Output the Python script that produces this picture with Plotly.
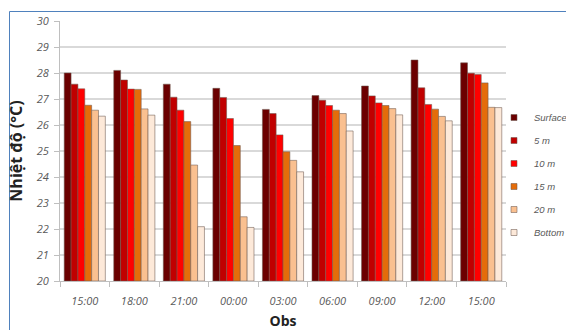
import plotly.graph_objects as go

categories = ["15:00", "18:00", "21:00", "00:00", "03:00", "06:00", "09:00", "12:00", "15:00"]
series_names = ["Surface", "5 m", "10 m", "15 m", "20 m", "Bottom"]
surface = [28.0, 28.1, 27.57, 27.41, 26.6, 27.13, 27.5, 28.5, 28.39]
m5 = [27.57, 27.73, 27.07, 27.06, 26.44, 26.95, 27.12, 27.43, 27.99]
m10 = [27.39, 27.38, 26.57, 26.25, 25.62, 26.75, 26.85, 26.79, 27.94]
m15 = [26.76, 27.37, 26.13, 25.21, 24.97, 26.57, 26.75, 26.61, 27.62]
m20 = [26.57, 26.62, 24.46, 22.47, 24.64, 26.44, 26.63, 26.33, 26.68]
bottom = [26.34, 26.38, 22.09, 22.06, 24.2, 25.77, 26.39, 26.16, 26.67]
y_ticks = [20, 21, 22, 23, 24, 25, 26, 27, 28, 29, 30]

values = [surface, m5, m10, m15, m20, bottom]
colors = ["#6B0000", "#C00000", "#FF0000", "#E46C0A", "#FAC090", "#FDE9D9"]
outline = "rgba(110,90,80,0.55)"

xpos = list(range(len(categories)))
fig = go.Figure()
for name, vals, col in zip(series_names, values, colors):
    fig.add_trace(go.Bar(
        x=xpos, y=[v - 20 for v in vals], base=20, name=name,
        marker=dict(color=col, line=dict(color=outline, width=1)),
        legendgroup=name, showlegend=False,
    ))
for name, col in zip(series_names, colors):
    fig.add_trace(go.Scatter(
        x=[None], y=[None], mode="markers", name=name, legendgroup=name,
        marker=dict(symbol="square", size=6, color=col, line=dict(color=outline, width=1)),
    ))

L, R, T, B = 60, 60, 21, 49
W, H = 566, 330
pw, ph = W - L - R, H - T - B

def px(x):
    return (x - L) / pw

def py(y):
    return (H - B - y) / ph

fig.update_layout(
    width=W, height=H,
    margin=dict(l=L, r=R, t=T, b=B, autoexpand=False),
    paper_bgcolor="white", plot_bgcolor="white",
    barmode="group", bargap=0.17, bargroupgap=0,
    font=dict(family="Open Sans, Liberation Sans, sans-serif", color="#595959"),
    showlegend=True,
    legend=dict(
        x=px(494), y=py(103), xanchor="left", yanchor="top",
        font=dict(size=9.5, family="Liberation Sans Narrow, Liberation Sans, sans-serif",
                  color="#595959", style="italic"),
        tracegroupgap=4, bgcolor="rgba(0,0,0,0)", itemwidth=30,
    ),
    xaxis=dict(
        range=[-0.5, len(categories) - 0.5],
        tickvals=xpos, ticktext=categories,
        ticks="", showgrid=False,
        showline=True, linecolor="#bfbfbf", linewidth=1,
        tickfont=dict(size=11, color="#595959", style="italic"),
        ticklabelstandoff=10,
        minor=dict(tickvals=[i - 0.5 for i in range(len(categories) + 1)],
                   ticks="outside", ticklen=5, tickcolor="#bfbfbf", showgrid=False),
        title=dict(text="<b>Obs</b>", font=dict(size=14, color="#222222"), standoff=11),
        fixedrange=True,
    ),
    yaxis=dict(
        range=[20, 30], tickvals=y_ticks,
        showgrid=True, gridcolor="#d9d9d9", gridwidth=1.5,
        showline=True, linecolor="#bfbfbf", linewidth=1,
        ticks="outside", ticklen=5, tickcolor="#bfbfbf",
        tickfont=dict(size=11, color="#595959", style="italic"),
        ticklabelstandoff=3,
        title=dict(text="<b>Nhiệt độ (°C)</b>", font=dict(size=16, color="#222222"), standoff=10),
        zeroline=False, fixedrange=True,
    ),
    shapes=[dict(
        type="rect", xref="paper", yref="paper",
        x0=px(9.5), x1=px(W + 20), y0=py(H + 20), y1=py(11.5),
        line=dict(color="#4F81BD", width=1), fillcolor="rgba(0,0,0,0)", layer="below",
    )],
)

fig.write_html("out.html", config={"displayModeBar": False},
               post_script="document.body.style.margin='0';document.body.style.overflow='hidden';")
